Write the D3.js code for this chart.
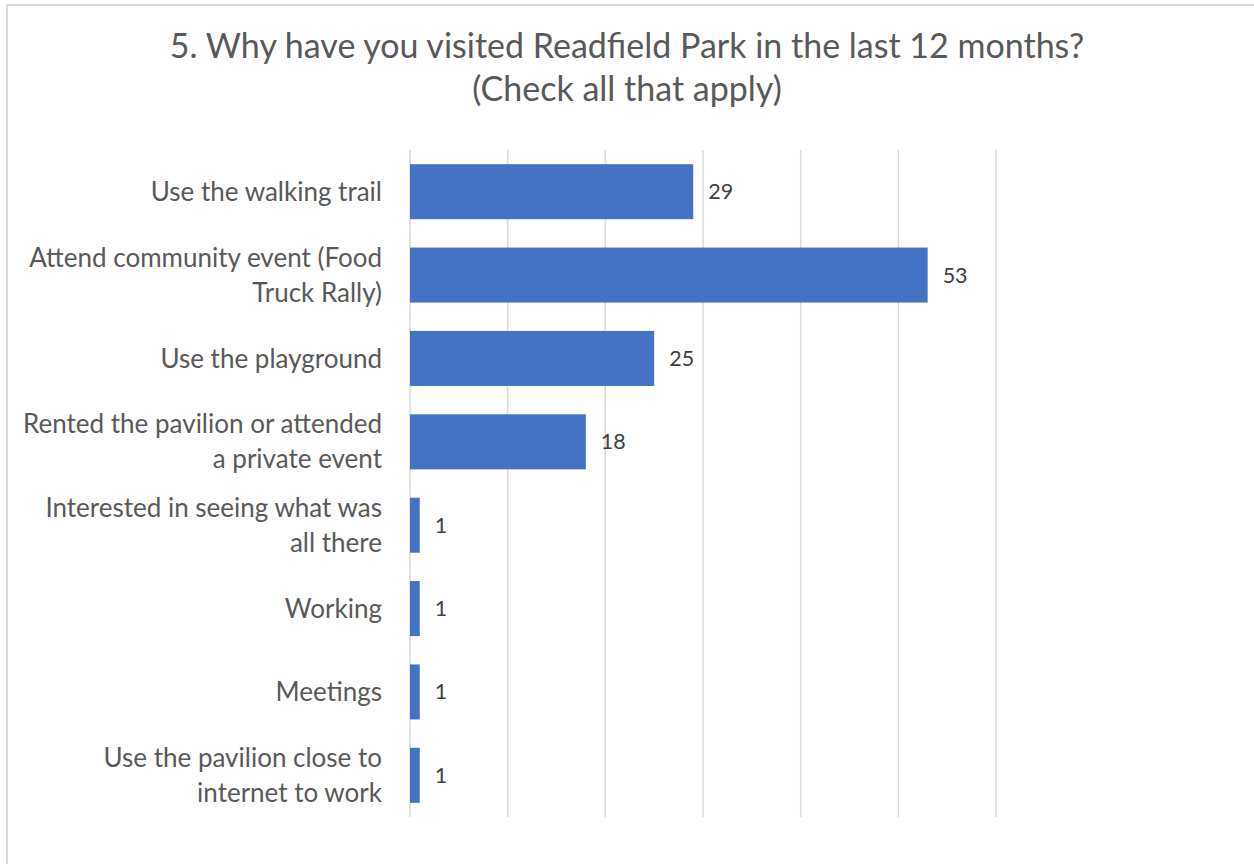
<!DOCTYPE html>
<html>
<head>
<meta charset="utf-8">
<script src="https://cdn.jsdelivr.net/npm/d3@7"></script>
<style>
  html, body { margin: 0; padding: 0; background: #fff; }
  svg { display: block; }
  text { font-family: Lato, "Open Sans", sans-serif; }
</style>
</head>
<body>
<svg id="chart" width="1254" height="864"></svg>
<script>
// Survey responses: reasons for visiting the park
const categories = [
  ["Use the walking trail"],
  ["Attend community event (Food", "Truck Rally)"],
  ["Use the playground"],
  ["Rented the pavilion or attended", "a private event"],
  ["Interested in seeing what was", "all there"],
  ["Working"],
  ["Meetings"],
  ["Use the pavilion close to", "internet to work"]
];
const counts = [29, 53, 25, 18, 1, 1, 1, 1];
const gridTicks = [0, 10, 20, 30, 40, 50, 60];
const titleLines = [
  "5. Why have you visited Readfield Park in the last 12 months?",
  "(Check all that apply)"
];

const svg = d3.select("#chart");
const W = 1254, H = 864;

// outer chart frame
svg.append("rect")
  .attr("x", 7).attr("y", 5)
  .attr("width", W + 20).attr("height", H + 20)
  .attr("fill", "#fff")
  .attr("stroke", "#d9d9d9")
  .attr("stroke-width", 2);

const plot = { left: 410, right: 996, top: 150, bottom: 817 };

const x = d3.scaleLinear()
  .domain([0, 60])
  .range([plot.left, plot.right]);

const y = d3.scaleBand()
  .domain(d3.range(categories.length))
  .range([plot.top, plot.bottom])
  .paddingInner(0.34)
  .paddingOuter(0.17);

// vertical gridlines
svg.append("g")
  .selectAll("line")
  .data(gridTicks)
  .join("line")
  .attr("x1", d => x(d)).attr("x2", d => x(d))
  .attr("y1", plot.top).attr("y2", plot.bottom)
  .attr("stroke", "#d9d9d9")
  .attr("stroke-width", 1.5);

// bars
svg.append("g")
  .selectAll("rect")
  .data(counts)
  .join("rect")
  .attr("x", x(0))
  .attr("y", (d, i) => y(i))
  .attr("width", d => x(d) - x(0))
  .attr("height", y.bandwidth())
  .attr("fill", "#4472c4");

// value labels
svg.append("g")
  .selectAll("text")
  .data(counts)
  .join("text")
  .attr("x", d => x(d) + 15)
  .attr("y", (d, i) => y(i) + y.bandwidth() / 2)
  .attr("dy", "0.35em")
  .attr("font-size", 21.5)
  .attr("fill", "#404040")
  .text(d => d);

// category labels (wrapped)
const catG = svg.append("g");
categories.forEach((lines, i) => {
  const cy = y(i) + y.bandwidth() / 2;
  const lh = 35;
  const t = catG.append("text")
    .attr("text-anchor", "end")
    .attr("font-size", 26)
    .attr("fill", "#595959");
  lines.forEach((ln, j) => {
    t.append("tspan")
      .attr("x", 382)
      .attr("y", cy + (j - (lines.length - 1) / 2) * lh)
      .attr("dy", "0.35em")
      .text(ln);
  });
});

// title
const tt = svg.append("text")
  .attr("text-anchor", "middle")
  .attr("font-size", 34)
  .attr("fill", "#595959");
titleLines.forEach((ln, j) => {
  tt.append("tspan")
    .attr("x", 627)
    .attr("y", 46 + j * 43)
    .attr("dy", "0.35em")
    .text(ln);
});
</script>
</body>
</html>
